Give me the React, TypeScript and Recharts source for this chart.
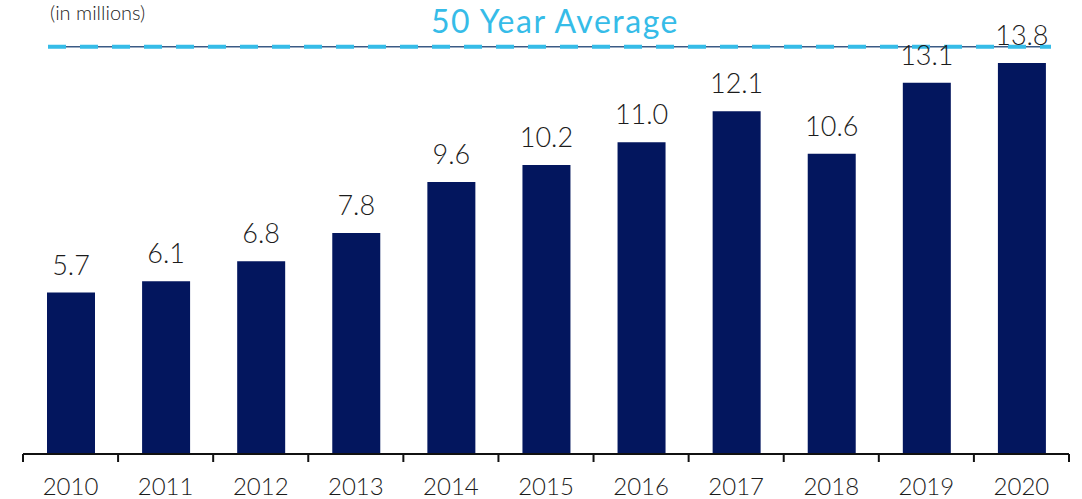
import { BarChart, Bar, XAxis, YAxis, ReferenceLine, LabelList } from "recharts";

const years = ["2010", "2011", "2012", "2013", "2014", "2015", "2016", "2017", "2018", "2019", "2020"];
const units = [5.7, 6.1, 6.8, 7.8, 9.6, 10.2, 11.0, 12.1, 10.6, 13.1, 13.8];
const fiftyYearAverage = 14.37;

const data = years.map((year, i) => ({ year, units: units[i] }));

const FONT = "Lato, 'Noto Sans', sans-serif";
const TEXT = "#1c1c1c";

function YearTick(props: any) {
  const { x, y, payload, index } = props;
  const half = 47.55;
  return (
    <g>
      <line x1={x - half} y1={y - 8} x2={x - half} y2={y} stroke="#111" strokeWidth={2} />
      {index === years.length - 1 && (
        <line x1={x + half} y1={y - 8} x2={x + half} y2={y} stroke="#111" strokeWidth={2} />
      )}
      <text x={x} y={y + 33} textAnchor="middle" fontSize={24} fill={TEXT} fontFamily={FONT} fontWeight={300}>
        {payload.value}
      </text>
    </g>
  );
}

function AvgLine(props: any) {
  const { x1, x2, y1 } = props;
  return (
    <g>
      <line x1={x1 + 25} x2={x2 - 18} y1={y1} y2={y1} stroke="#3a5a85" strokeWidth={1.5} />
      <line x1={x1 + 25} x2={x2 - 18} y1={y1} y2={y1} stroke="#36bce8" strokeWidth={4} strokeDasharray="18 14" />
    </g>
  );
}

export default function App() {
  return (
    <div style={{ position: "absolute", left: 0, top: 0, width: 1082, height: 499, fontFamily: FONT }}>
      <div style={{ position: "absolute", left: 50, top: 0, fontSize: 20, fontWeight: 300, color: TEXT, lineHeight: "24px" }}>
        (in millions)
      </div>
      <BarChart width={1082} height={499} data={data} margin={{ top: 29, right: 13, bottom: 0, left: 23 }} barSize={48}>
        <YAxis hide domain={[0, 15]} />
        <XAxis
          dataKey="year"
          height={45}
          axisLine={{ stroke: "#111", strokeWidth: 2 }}
          tickLine={false}
          interval={0}
          tick={<YearTick />}
        />
        <ReferenceLine
          y={fiftyYearAverage}
          shape={<AvgLine />}
          label={{
            value: "50 Year Average",
            position: "top",
            offset: 14,
            fill: "#36bce8",
            fontSize: 32,
            fontFamily: FONT,
            letterSpacing: 1.5,
            dx: 9,
          }}
        />
        <Bar dataKey="units" fill="#03165e" isAnimationActive={false}>
          <LabelList
            dataKey="units"
            position="top"
            offset={18}
            formatter={(v: any) => Number(v).toFixed(1)}
            style={{ fontSize: 27, fill: TEXT, fontFamily: FONT, fontWeight: 300 }}
          />
        </Bar>
      </BarChart>
    </div>
  );
}
